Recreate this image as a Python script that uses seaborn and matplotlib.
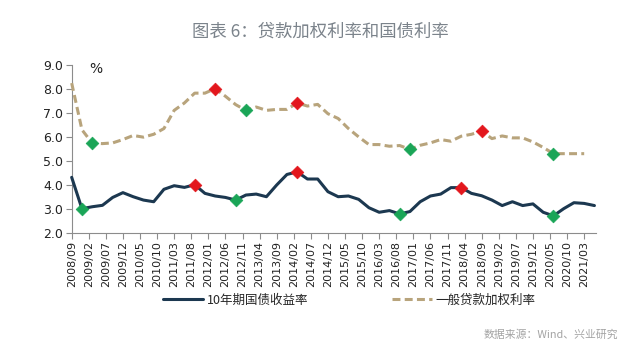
import numpy as np
import pandas as pd
import seaborn as sns
import matplotlib.pyplot as plt
from matplotlib.lines import Line2D

# quarterly data, 2008/09 .. 2021/06 (months since 2008/09)
bond_months = list(range(0, 154, 3))
bond_yield = [4.31, 3.00, 3.08, 3.14, 3.47, 3.67, 3.50, 3.36, 3.29, 3.81,
              3.96, 3.89, 4.00, 3.64, 3.53, 3.47, 3.36, 3.57, 3.61, 3.50,
              3.99, 4.43, 4.54, 4.24, 4.24, 3.71, 3.50, 3.53, 3.39, 3.04,
              2.85, 2.92, 2.78, 2.88, 3.29, 3.53, 3.61, 3.88, 3.88, 3.64,
              3.54, 3.36, 3.13, 3.29, 3.13, 3.20, 2.85, 2.70, 3.00, 3.25,
              3.22, 3.13]
loan_months = list(range(0, 151, 3))
loan_rate = [8.25, 6.30, 5.74, 5.72, 5.75, 5.89, 6.06, 5.99, 6.11, 6.35,
             7.11, 7.42, 7.83, 7.83, 8.02, 7.70, 7.35, 7.11, 7.25, 7.11,
             7.15, 7.15, 7.42, 7.29, 7.36, 6.97, 6.77, 6.35, 6.00, 5.68,
             5.68, 5.61, 5.64, 5.48, 5.65, 5.75, 5.89, 5.82, 6.03, 6.11,
             6.24, 5.93, 6.04, 5.96, 5.96, 5.79, 5.56, 5.30, 5.30, 5.30,
             5.30]

# highlighted points (quarter index)
bond_high = [12, 22, 38]
bond_low = [1, 16, 32, 47]
loan_high = [14, 22, 40]
loan_low = [2, 17, 33, 47]

tick_labels = ["2008/09", "2009/02", "2009/07", "2009/12", "2010/05", "2010/10",
               "2011/03", "2011/08", "2012/01", "2012/06", "2012/11", "2013/04",
               "2013/09", "2014/02", "2014/07", "2014/12", "2015/05", "2015/10",
               "2016/03", "2016/08", "2017/01", "2017/06", "2017/11", "2018/04",
               "2018/09", "2019/02", "2019/07", "2019/12", "2020/05", "2020/10",
               "2021/03"]

sns.set_style("white")
plt.rcParams['font.family'] = ['Noto Sans CJK SC', 'DejaVu Sans']

navy = "#1c3850"
tan = "#b8a47c"
red = "#e3171d"
green = "#1aa557"
axis_gray = "#8c8c8c"

bond = pd.DataFrame({"m": bond_months, "v": bond_yield})
loan = pd.DataFrame({"m": loan_months, "v": loan_rate})

fig = plt.figure(figsize=(6.4, 3.64), dpi=100)
ax = fig.add_axes([0.112, 0.361, 0.82, 0.46])

sns.lineplot(data=bond, x="m", y="v", ax=ax, color=navy, lw=2.2, zorder=3)
sns.lineplot(data=loan, x="m", y="v", ax=ax, color=tan, lw=2.2, zorder=3)
ax.lines[-1].set_linestyle((0, (2.6, 1.4)))
for ln in ax.lines:
    ln.set_clip_on(False)

for df, hi, lo in [(bond, bond_high, bond_low), (loan, loan_high, loan_low)]:
    sns.scatterplot(data=df.iloc[hi], x="m", y="v", ax=ax, marker="D",
                    color=red, s=42, edgecolor=red, linewidth=0.5, zorder=5)
    sns.scatterplot(data=df.iloc[lo], x="m", y="v", ax=ax, marker="D",
                    color=green, s=42, edgecolor=green, linewidth=0.5, zorder=5)

ax.set_xlim(0, 153.6)
ax.set_ylim(2, 9)
ax.set_yticks(np.arange(2, 9.1, 1))
ax.set_yticklabels([f"{v:.1f}" for v in np.arange(2, 9.1, 1)],
                   fontsize=9, family="DejaVu Sans", color="#222222")
ax.set_xticks(range(0, 151, 5))
ax.set_xticklabels(tick_labels, rotation=90, fontsize=8,
                   family="DejaVu Sans", color="#222222")
ax.set_xlabel("")
ax.set_ylabel("")
ax.tick_params(axis="both", direction="out", length=4, width=0.8,
               color=axis_gray, pad=2, left=True, bottom=True)
for side in ["top", "right"]:
    ax.spines[side].set_visible(False)
for side in ["left", "bottom"]:
    ax.spines[side].set_color(axis_gray)
    ax.spines[side].set_linewidth(0.8)

ax.text(5, 8.85, "%", fontsize=10, va="center", ha="left", color="#222222",
        family="DejaVu Sans")

handles = [Line2D([], [], color=navy, lw=2.2),
           Line2D([], [], color=tan, lw=2.2, linestyle=(0, (2.6, 1.4)))]
fig.legend(handles, ["10年期国债收益率", "一般贷款加权利率"], ncol=2,
           loc="center", bbox_to_anchor=(0.546, 0.175), frameon=False,
           fontsize=9, handlelength=3.2, handletextpad=0.3,
           columnspacing=6.7)

fig.text(0.5, 0.912, "图表 6：贷款加权利率和国债利率", ha="center", va="center",
         fontsize=12.5, color="#7b838b")
fig.text(0.966, 0.08, "数据来源：Wind、兴业研究", ha="right", va="center",
         fontsize=7.8, color="#a3a3a3")

fig.savefig("out.png", dpi=100)
